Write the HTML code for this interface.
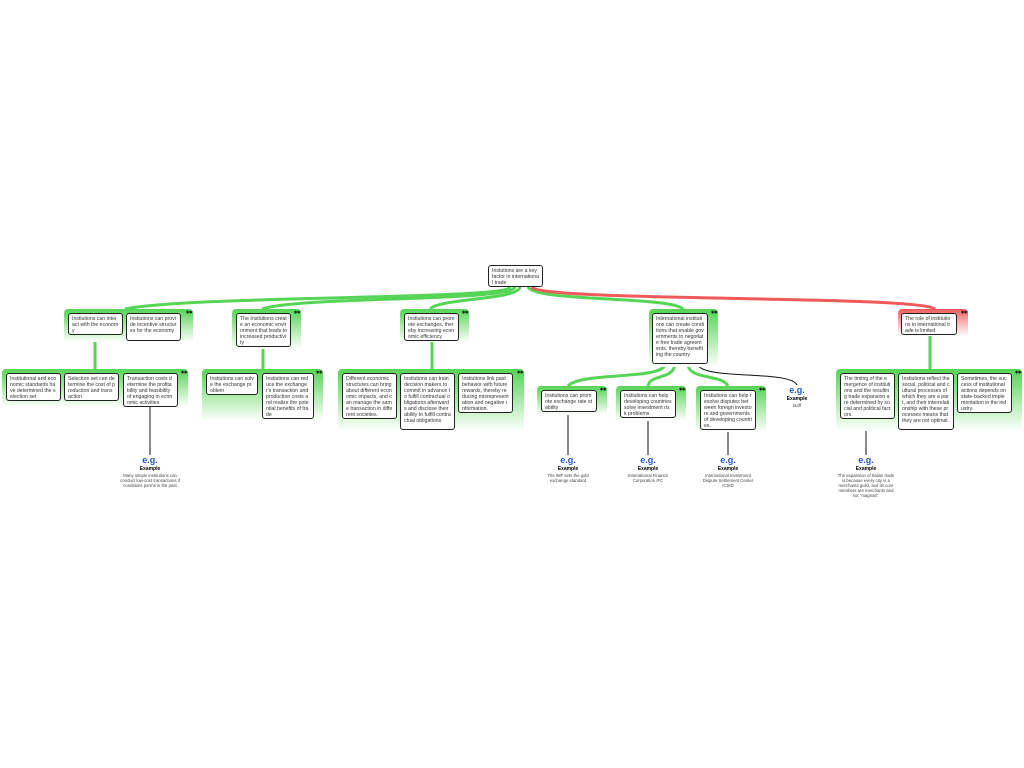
<!DOCTYPE html>
<html><head><meta charset="utf-8"><style>
body{margin:0;width:1024px;height:768px;background:#fff;position:relative;overflow:hidden;font-family:"Liberation Sans",sans-serif}
.p{position:absolute;border-radius:4px 4px 0 0;background:linear-gradient(to bottom,#55d455 0%,#8fe38f 35%,#ffffff 100%)}
.p.r{background:linear-gradient(to bottom,#ee5a5a 0%,#f59a9a 35%,#ffffff 100%)}
.p:after{content:"\2736\2736";position:absolute;right:1px;top:1px;font-size:5px;color:#000;font-weight:bold;letter-spacing:-1px}
.b{position:absolute;background:#fff;border:1.3px solid #222;border-radius:3px;font-size:5.2px;line-height:6px;color:#333;padding:2px 3px;box-sizing:border-box;word-break:break-all;overflow:hidden}
.ex{position:absolute;text-align:center;font-size:4.3px;line-height:5px;color:#444;width:60px}
.ex .i{color:#2255cc;font-size:9px;font-weight:bold;line-height:12px;height:12px}
.ex b{display:block;color:#000;font-size:5px;line-height:7px}
</style></head><body>
<svg width="1024" height="768" style="position:absolute;left:0;top:0">
<g fill="none" stroke="#55d455" stroke-width="3">
<path d="M510 287 C505 300,200 295,125 309"/>
<path d="M515 287 C510 302,300 296,262 309"/>
<path d="M520 287 C518 300,440 298,430 309"/>
<path d="M528 287 C535 302,670 296,683 309"/>
<path d="M95 335 L95 369"/>
<path d="M263 346 L263 369"/>
<path d="M432 340 L432 369"/>
<path d="M665 365 C660 380,580 372,568 386"/>
<path d="M675 365 C672 380,650 374,648 386"/>
<path d="M688 365 C690 380,722 374,728 386"/>
<path d="M930 334 L930 369"/>
</g>
<path d="M532 287 C540 302,920 295,935 309" fill="none" stroke="#ee5a5a" stroke-width="3"/>
<g stroke="#111" stroke-width="1" fill="none">
<path d="M150 406 L150 455"/>
<path d="M568 412 L568 455"/>
<path d="M648 418 L648 455"/>
<path d="M728 430 L728 455"/>
<path d="M866 418 L866 455"/>
<path d="M698 365 C705 380,790 370,797 385"/>
</g>
</svg>
<div class="b" style="left:488px;top:265px;width:55px;height:22px">Instutions are a key factor in international trade</div>

<div class="p" style="left:64px;top:309px;width:129px;height:33px"></div>
<div class="b" style="left:68px;top:313px;width:55px;height:22px">Instiutions can interact with the economy</div>
<div class="b" style="left:126px;top:313px;width:55px;height:28px">Instiutions can provide incentive structures for the economy</div>

<div class="p" style="left:232px;top:309px;width:69px;height:40px"></div>
<div class="b" style="left:236px;top:313px;width:55px;height:34px">The Instiutions create an economic environment that leads to increased productivity</div>

<div class="p" style="left:400px;top:309px;width:69px;height:33px"></div>
<div class="b" style="left:404px;top:313px;width:55px;height:28px">Instiutions can promote exchanges, thereby increasing economic efficiency</div>

<div class="p" style="left:649px;top:309px;width:69px;height:58px"></div>
<div class="b" style="left:652px;top:313px;width:56px;height:51px">International institutions can create conditions that enable governments to negotiate free trade agreements, thereby benefiting the country</div>

<div class="p r" style="left:898px;top:309px;width:70px;height:27px"></div>
<div class="b" style="left:901px;top:313px;width:56px;height:22px">The role of institutions in international trade is limited</div>

<div class="p" style="left:2px;top:369px;width:186px;height:38px"></div>
<div class="b" style="left:6px;top:373px;width:55px;height:28px">Institutional and economic standards have determined the selection set</div>
<div class="b" style="left:64px;top:373px;width:55px;height:28px">Selection set can determine the cost of production and transaction</div>
<div class="b" style="left:123px;top:373px;width:55px;height:34px">Transaction costs determine the profitability and feasibility of engaging in economic activities</div>

<div class="p" style="left:202px;top:369px;width:121px;height:52px"></div>
<div class="b" style="left:206px;top:373px;width:52px;height:22px">Instiutions can solve the exchange problem</div>
<div class="b" style="left:262px;top:373px;width:52px;height:46px">Instiutions can reduce the exchanger's transaction and production costs and realize the potential benefits of trade</div>

<div class="p" style="left:338px;top:369px;width:186px;height:62px"></div>
<div class="b" style="left:342px;top:373px;width:55px;height:46px">Different economic structures can bring about different economic impacts, and can manage the same transaction in different societies.</div>
<div class="b" style="left:400px;top:373px;width:55px;height:57px">Instiutions can train decision makers to commit in advance to fulfill contractual obligations afterwards and disclose their ability to fulfill contractual obligations</div>
<div class="b" style="left:458px;top:373px;width:55px;height:40px">Instiutions link past behavior with future rewards, thereby reducing misrepresentation and negative information.</div>

<div class="p" style="left:537px;top:386px;width:70px;height:29px"></div>
<div class="b" style="left:541px;top:390px;width:56px;height:22px">Instiutions can promote exchange rate stability</div>
<div class="p" style="left:616px;top:386px;width:70px;height:35px"></div>
<div class="b" style="left:620px;top:390px;width:56px;height:28px">Instiutions can help developing countries solve investment risk problems.</div>
<div class="p" style="left:696px;top:386px;width:70px;height:46px"></div>
<div class="b" style="left:700px;top:390px;width:56px;height:40px">Instiutions can help resolve disputes between foreign investors and governments of developing countries.</div>

<div class="p" style="left:836px;top:369px;width:186px;height:62px"></div>
<div class="b" style="left:840px;top:373px;width:55px;height:46px">The timing of the emergence of institutions and the resulting trade expansion are determined by social and political factors.</div>
<div class="b" style="left:898px;top:373px;width:56px;height:57px">Instiutions reflect the social, political and cultural processes of which they are a part, and their interrelationship with these processes means that they are not optimal.</div>
<div class="b" style="left:957px;top:373px;width:55px;height:40px">Sometimes, the success of institutional actions depends on state-backed implementation in the industry.</div>

<div class="ex" style="left:120px;top:454px"><div class="i">e.g.</div><b>Example</b>Many simple institutions can conduct low-cost transactions if conditions permit in the past</div>
<div class="ex" style="left:538px;top:454px"><div class="i">e.g.</div><b>Example</b>The IMF sets the gold exchange standard</div>
<div class="ex" style="left:618px;top:454px"><div class="i">e.g.</div><b>Example</b>International Finance Corporation IFC</div>
<div class="ex" style="left:698px;top:454px"><div class="i">e.g.</div><b>Example</b>International Investment Dispute Settlement Center ICSID</div>
<div class="ex" style="left:767px;top:384px"><div class="i">e.g.</div><b>Example</b>tariff</div>
<div class="ex" style="left:836px;top:454px"><div class="i">e.g.</div><b>Example</b>The expansion of Italian trade is because every city is a merchants guild, and its core members are merchants and not "magnati".</div>
</body></html>
